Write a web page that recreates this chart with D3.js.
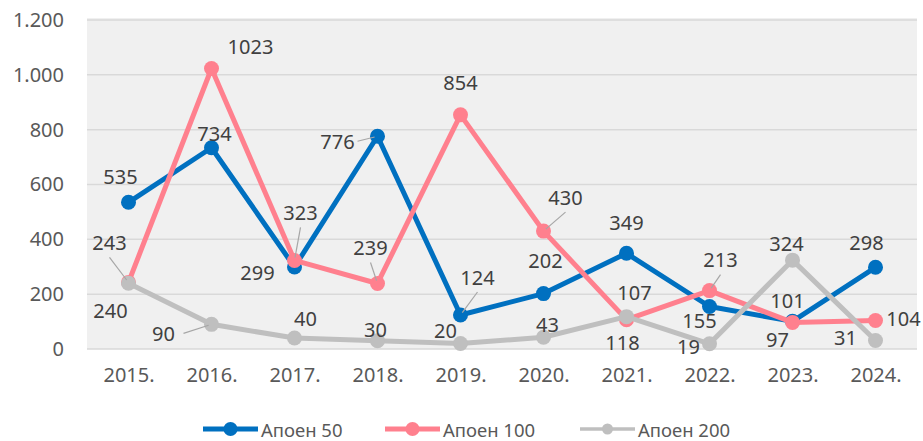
<!DOCTYPE html>
<html>
<head>
<meta charset="utf-8">
<script src="https://cdn.jsdelivr.net/npm/d3@7"></script>
<style>
  body { margin: 0; background: #fff; }
  svg text { font-family: "Noto Sans", "Open Sans", sans-serif; }
</style>
</head>
<body>
<svg id="chart" width="923" height="441"></svg>
<script>
var years = ["2015.", "2016.", "2017.", "2018.", "2019.", "2020.", "2021.", "2022.", "2023.", "2024."];
var yTicks = [0, 200, 400, 600, 800, 1000, 1200];
var seriesNames = ["Апоен 50", "Апоен 100", "Апоен 200"];
var apoen50 = [535, 734, 299, 776, 124, 202, 349, 155, 101, 298];
var apoen100 = [243, 1023, 323, 239, 854, 430, 107, 213, 97, 104];
var apoen200 = [240, 90, 40, 30, 20, 43, 118, 19, 324, 31];

// label offsets from the marker (dx, dy), third value = draw leader line
var labelPos = [
  [[-8,-26],[3,-14],[-37,5],[-40,5,1],[17,-38,1],[2,-33],[0,-31],[-10,14],[-5,-21],[-9,-25]],
  [[-19,-40,1],[39,-22],[6,-48,1],[-7,-36,1],[0,-32],[22,-34,1],[8,-27],[11,-31,1],[-15,17],[28,-2]],
  [[-18,27],[-48,9,1],[11,-20],[-2,-11],[-15,-13],[4,-13],[-4,26],[-21,3],[-6,-17],[-30,-3]]
];
var colors = ["#0070c0", "#ff808e", "#bfbfbf"];

var svg = d3.select("#chart");
var margin = {left: 87, right: 6, top: 20, bottom: 92};
var width = 923 - margin.left - margin.right,
    height = 441 - margin.top - margin.bottom;

var x = d3.scalePoint().domain(years).range([0, width]).padding(0.5);
var y = d3.scaleLinear().domain([0, 1200]).range([height, 0]);

var g = svg.append("g").attr("transform", "translate(" + margin.left + "," + margin.top + ")");

g.append("rect")
    .attr("x", 0).attr("y", -2)
    .attr("width", width).attr("height", height + 2)
    .attr("fill", "#f0f0f0");

// gridlines
g.selectAll(".grid")
  .data(yTicks)
  .enter().append("line")
    .attr("x1", 0).attr("x2", width)
    .attr("y1", function(d) { return y(d); })
    .attr("y2", function(d) { return y(d); })
    .attr("stroke", "#d9d9d9")
    .attr("stroke-width", 1.5);

// y axis labels
var fmt = function(d) { return d3.format(",")(d).replace(/,/g, "."); };
var ya = g.append("g")
  .call(d3.axisLeft(y).tickValues(yTicks).tickSize(0).tickPadding(23).tickFormat(fmt));
ya.select(".domain").remove();
ya.selectAll("text")
    .attr("font-size", 20)
    .attr("fill", "#595959");

// x axis labels
var xa = g.append("g").attr("transform", "translate(0," + height + ")")
  .call(d3.axisBottom(x).tickSize(0).tickPadding(19));
xa.select(".domain").remove();
xa.selectAll("text")
    .attr("font-size", 20)
    .attr("fill", "#595959");
svg.selectAll("g").attr("font-family", null);

var allSeries = [apoen50, apoen100, apoen200];
var line = d3.line()
    .x(function(d, i) { return x(years[i]); })
    .y(function(d) { return y(d); });

[0, 1, 2].forEach(function(s) {
  var vals = allSeries[s];
  g.append("path")
      .datum(vals)
      .attr("fill", "none")
      .attr("stroke", colors[s])
      .attr("stroke-width", 5)
      .attr("stroke-linejoin", "round")
      .attr("d", line);
  g.selectAll(".m" + s)
    .data(vals)
    .enter().append("circle")
      .attr("cx", function(d, i) { return x(years[i]); })
      .attr("cy", function(d) { return y(d); })
      .attr("r", 7.5)
      .attr("fill", colors[s]);
});

// data labels
[0, 1, 2].forEach(function(s) {
  var vals = allSeries[s];
  vals.forEach(function(v, i) {
    var px = x(years[i]), py = y(v);
    var p = labelPos[s][i];
    var lx = px + p[0], ly = py + p[1];
    if (p[2]) {
      var sx, sy;
      if (Math.abs(p[0]) > Math.abs(p[1])) {
        sx = lx + Math.sign(px - lx) * 20; sy = ly;
      } else {
        sx = lx; sy = ly + Math.sign(py - ly) * 15;
      }
      var a = Math.atan2(py - sy, px - sx);
      g.append("line")
          .attr("x1", sx).attr("y1", sy)
          .attr("x2", px - Math.cos(a) * 3).attr("y2", py - Math.sin(a) * 3)
          .attr("stroke", "#a6a6a6")
          .attr("stroke-width", 1.2);
    }
    g.append("text")
        .attr("x", lx).attr("y", ly)
        .attr("text-anchor", "middle")
        .attr("dominant-baseline", "central")
        .attr("font-size", 20)
        .attr("fill", "#404040")
        .text(v);
  });
});

// legend
var legendX = [203, 385, 580];
var leg = svg.append("g").attr("transform", "translate(0,429)");
seriesNames.forEach(function(name, s) {
  var lg = leg.append("g").attr("transform", "translate(" + legendX[s] + ",0)");
  lg.append("line")
      .attr("x1", 0).attr("x2", 55)
      .attr("stroke", colors[s])
      .attr("stroke-width", s === 2 ? 3.5 : 5);
  lg.append("circle")
      .attr("cx", 27.5).attr("r", s === 2 ? 5.5 : 7)
      .attr("fill", colors[s]);
  lg.append("text")
      .attr("x", 58)
      .attr("dominant-baseline", "central")
      .attr("font-size", 18.5)
      .attr("fill", "#595959")
      .text(name);
});
</script>
</body>
</html>
